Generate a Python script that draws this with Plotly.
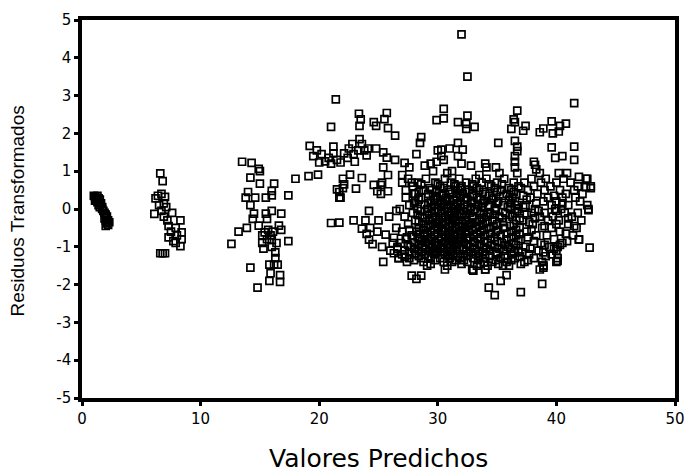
import plotly.graph_objects as go

# ---- data (x = valor predicho, y = residuo transformado) ----
cluster_a = [(1.0,0.35),(1.1,0.33),(1.2,0.30),(1.3,0.35),(1.4,0.28),(1.1,0.22),(1.3,0.18),
             (1.5,0.25),(1.4,0.10),(1.6,0.15),(1.5,0.05),(1.7,0.05),(1.8,-0.05),(1.9,-0.10),
             (2.0,-0.15),(1.9,-0.25),(2.1,-0.20),(2.0,-0.30),(2.2,-0.30),(2.1,-0.38),
             (2.2,-0.42),(2.0,-0.45),(2.3,-0.35),(1.7,0.0),(1.2,0.25)]

cluster_b = [(6.6,0.94),(6.8,0.74),(6.2,0.28),(6.4,0.35),(6.7,0.40),(7.0,0.32),(6.9,0.15),
             (6.5,0.10),(6.1,-0.13),(6.9,-0.20),(7.6,-0.10),(8.3,-0.30),(7.3,-0.45),
             (7.9,-0.50),(8.4,-0.62),(7.3,-0.75),(8.0,-0.70),(8.4,-0.80),(8.3,-0.98),
             (6.6,-1.17),(6.8,-1.17),(7.0,-1.17),(7.2,-0.30),(7.5,-0.60),(7.7,-0.85),
             (7.9,-0.90),(7.1,0.05),(6.7,-0.05)]

cluster_c = [(13.5,1.25),(14.3,1.22),(14.9,1.06),(15.0,1.00),(14.2,0.83),(15.0,0.67),
             (16.2,0.67),(18.0,0.80),(19.1,0.87),(14.0,0.45),(13.8,0.30),(14.6,0.30),
             (15.5,0.30),(16.0,0.48),(16.0,0.36),(17.4,0.36),(14.2,0.10),(14.5,-0.12),
             (15.5,-0.12),(16.0,-0.05),(16.8,-0.12),(14.4,-0.26),(15.6,-0.26),(13.9,-0.50),
             (14.9,-0.44),(15.7,-0.55),(16.6,-0.44),(16.8,-0.55),(13.2,-0.60),(12.6,-0.92),
             (15.2,-0.70),(16.0,-0.82),(17.4,-0.85),(15.2,-0.90),(15.3,-1.05),(16.0,-1.00),
             (16.3,-1.15),(16.3,-1.30),(15.8,-1.47),(16.2,-1.47),(16.5,-1.47),(14.2,-1.55),
             (15.9,-1.70),(16.7,-1.75),(14.8,-2.08),(15.8,-1.90),(16.7,-1.93),(15.4,-0.62),
             (15.9,-0.70),(16.1,-0.60),(15.6,-0.80),(16.4,-0.90)]

cluster_d = [(21.4,2.90),(21.0,2.17),(19.2,1.67),(19.5,1.40),(20.0,1.23),(20.5,1.26),
             (21.0,1.20),(21.2,1.47),(21.2,1.65),(21.8,1.23),(22.1,1.47),(22.5,1.60),
             (22.8,1.72),(23.4,1.85),(23.3,1.55),(23.6,1.72),(24.0,1.42),(24.1,1.60),
             (24.8,1.60),(25.4,1.50),(23.35,2.52),(23.5,2.37),(23.4,2.20),(25.7,2.54),
             (25.5,2.38),(24.6,2.30),(24.8,2.20),(25.8,2.14),(26.4,1.94),(28.6,1.90),
             (28.5,1.75),(27.2,1.22),(26.4,1.30),(25.7,1.36),(25.4,1.10),(25.8,0.90),
             (25.2,0.64),(25.8,0.47),(24.9,0.47),(25.2,0.40),(22.6,0.91),(23.6,0.82),
             (19.9,0.91),(21.5,0.52),(22.1,0.65),(23.1,0.54),(21.7,0.30),(24.2,-0.05),
             (21.7,-0.36),(22.9,-0.30),(23.6,-0.52),(24.0,-0.66),(24.2,-0.81),(24.5,-0.93),
             (24.9,-0.60),(25.6,-0.68),(26.3,-0.76),(25.4,-1.40),(26.3,-1.17),(27.2,-1.26),
             (26.6,-1.05),(24.6,0.64),(25.3,0.70),(27.0,0.70),(27.8,0.70),(27.3,0.50),
             (28.1,0.40),(28.4,0.30),(21.0,-0.37),(21.7,0.45),(21.8,0.30),(22.0,0.55),
             (22.0,0.80),(24.3,-0.50),(25.0,-0.30),(25.3,-1.00),(25.9,-0.20),(26.2,-0.90),
             (26.5,-0.50),(26.0,-1.10),(26.7,-1.30),(26.5,-0.05),(23.9,-0.30),(28.2,1.45),
             (28.9,1.15),(29.6,1.00),(27.6,1.10),(27.0,0.90),(20.2,1.45),(20.8,1.35),
             (21.5,1.30),(22.4,1.35),(23.0,1.25),(19.8,1.55),(22.9,1.45),(23.8,1.55)]

cluster_top = [(32.0,4.62),(32.5,3.50),(41.5,2.80),(30.5,2.65),(29.9,2.35),(30.5,2.40),
               (31.7,2.30),(32.5,2.47),(32.4,2.25),(33.1,2.17),(32.4,2.12),(36.7,2.60),
               (36.5,2.30),(36.2,2.12),(37.2,2.07),(38.6,2.03),(39.6,2.32),(40.3,2.20),
               (39.7,2.00),(40.2,2.05),(31.7,1.75),(35.1,1.75),(36.5,1.80),(36.7,1.65),
               (36.7,1.53),(39.6,1.63),(41.5,1.65),(41.5,1.30),(30.3,1.40),(30.5,1.30),
               (29.9,1.25),(29.4,1.20),(31.7,1.40),(32.0,1.20),(34.1,1.10),(34.9,1.10),
               (35.2,0.95),(36.5,1.40),(36.5,1.25),(36.5,1.10),(36.7,0.95),(38.2,1.17),
               (38.3,1.05),(38.6,0.95),(39.9,1.35),(40.5,1.40),(40.2,0.95),(40.9,0.95),
               (41.9,0.85),(42.6,0.80),(42.5,0.58),(42.9,0.55),(32.1,1.57),(30.3,1.57),
               (34.0,1.20),(38.9,2.13),(40.8,2.26),(38.1,1.25),(30.8,0.95),(31.2,1.00),
               (32.8,1.15),(33.5,0.90),(30.0,1.55),(31.0,1.60),(36.4,2.37),(37.4,2.20)]

cluster_low = [(42.8,-1.02),(42.7,-0.03),(41.9,-0.81),(40.1,-1.37),(34.3,-2.08),
               (34.8,-2.28),(35.3,-1.90),(35.8,-1.75),(37.0,-2.20),(38.8,-1.98),
               (38.9,-1.55),(38.9,-1.50),(33.0,-1.63),(34.0,-1.60),(27.8,-1.76),
               (28.6,-1.76),(28.2,-1.85),(27.6,-1.30)]

core_rows = {
    0.8: [27.5,29.0,30.6,31.8,33.2,34.1,35.6,37.9,39.1,40.6,42.5],
    0.7: [28.3,29.8,31.1,32.4,33.7,35.0,36.4,37.3,38.7,40.0,41.2],
    0.65: [28.6,30.0,31.4,32.9,34.3,35.4],
    0.6: [27.9,30.2,31.5,32.0,33.0,34.5,36.8,38.1,39.5,41.8,42.9],
    0.55: [29.3,30.5,31.9,33.3,34.8,36.0,37.0],
    0.5: [28.8,29.5,30.9,31.7,32.6,33.5,35.3,36.2,37.6,39.0,40.3,41.5],
    0.45: [28.4,29.9,31.0,32.3,33.8,35.0,36.4],
    0.4: [28.0,29.2,30.4,31.2,32.1,33.0,34.0,35.8,36.6,38.4,40.8,42.2],
    0.35: [29.6,30.3,31.9,32.9,34.3,35.5,37.2,39.8],
    0.3: [27.3,28.6,29.9,30.7,31.6,32.4,33.3,34.7,36.3,37.8,39.3,40.5,41.6],
    0.25: [28.4,29.7,30.6,31.4,32.5,33.6,34.6,36.0,37.5],
    0.2: [28.1,29.4,30.2,31.0,31.9,32.8,33.9,35.1,36.5,38.9,40.0,42.0],
    0.15: [28.0,29.2,30.3,31.7,32.9,33.8,35.0,36.2,38.3,40.5],
    0.1: [27.6,28.9,29.7,30.5,31.3,32.2,33.4,34.3,35.5,36.7,37.4,39.6,41.0,42.6],
    0.05: [29.5,30.3,31.9,32.8,33.7,34.3,35.9,37.2],
    0.0: [26.8,28.3,29.1,30.0,30.8,31.5,32.5,33.1,34.8,36.1,36.8,38.2,39.9,40.4,42.7],
    -0.05: [28.6,29.8,30.6,31.4,32.2,33.3,34.9,36.7,38.5,40.0],
    -0.1: [27.9,29.5,30.3,31.1,31.8,32.7,33.6,34.4,35.7,36.5,37.9,39.0,40.7,41.8],
    -0.15: [28.3,29.1,30.9,31.6,32.4,33.9,34.8,36.1,37.5],
    -0.2: [27.2,28.7,29.8,30.6,31.4,32.0,32.9,34.1,35.2,36.3,38.6,39.7,41.3],
    -0.25: [28.9,29.6,30.4,31.3,32.9,33.7,35.4,36.9,38.2,41.0],
    -0.3: [28.1,29.3,30.1,30.9,31.7,32.4,33.5,34.6,36.6,37.2,39.3,40.2,42.1],
    -0.35: [28.4,30.0,30.6,31.5,32.6,33.3,34.2,35.5,37.7],
    -0.4: [27.5,28.8,29.6,30.4,31.2,32.1,32.8,33.8,35.0,36.4,38.0,40.0,41.0],
    -0.45: [29.2,29.9,31.0,31.8,32.5,33.5,34.7,36.1,39.0,41.5],
    -0.5: [28.4,29.0,30.0,30.7,31.5,32.3,33.2,34.3,35.6,36.9,38.8,39.6,41.7],
    -0.55: [27.6,28.8,29.7,30.4,31.2,32.0,32.9,33.9,35.1,36.6,37.9],
    -0.6: [27.0,28.2,29.4,30.3,31.0,31.9,32.6,33.6,34.9,36.2,37.5,40.3],
    -0.65: [28.5,29.1,30.0,30.9,31.7,32.4,33.3,34.4,35.8,36.9,40.8],
    -0.7: [27.8,28.9,29.7,30.6,31.3,32.0,33.0,34.0,35.3,36.6,38.3,39.2,41.4],
    -0.75: [27.4,28.3,29.4,30.3,31.0,31.9,32.7,33.6,34.8,36.2,37.6],
    -0.8: [27.3,28.5,29.2,30.1,30.9,31.7,32.5,33.4,34.5,35.8,37.0,39.8,41.9],
    -0.85: [28.7,29.5,30.7,31.2,32.0,33.0,33.9,35.0,36.8,38.1,40.9],
    -0.9: [26.9,28.0,29.0,29.8,30.5,31.4,32.2,33.1,34.2,35.4,36.4,38.7,40.5],
    -0.95: [27.5,28.4,29.3,30.0,30.9,31.6,32.4,33.5,34.5,35.7,36.6,39.0,40.3],
    -1.0: [26.6,27.7,28.7,29.5,30.3,31.1,31.8,32.7,33.9,34.8,35.9,37.4,39.4,40.1],
    -1.05: [28.0,28.9,29.8,30.5,31.3,32.1,33.1,34.1,35.2,36.1,37.8,39.8],
    -1.1: [27.2,28.4,29.3,30.0,30.8,31.6,32.4,33.5,34.4,35.6,36.8,38.5,40.0],
    -1.15: [27.6,28.6,29.6,30.4,31.1,32.8,33.8,34.9,36.4,37.1,38.9],
    -1.2: [27.0,28.1,28.9,29.7,30.6,31.3,32.1,33.2,34.0,35.0,36.2,37.7,39.6],
    -1.25: [28.4,29.2,30.9,31.7,32.5,33.5,34.4,35.7,36.9,39.1],
    -1.3: [26.7,28.6,29.4,30.2,31.0,31.9,33.0,33.8,35.3,36.5,38.1,40.1],
    -1.35: [28.0,29.8,31.5,32.2,33.4,34.9,36.2,37.6],
    -1.4: [27.4,28.8,30.5,31.2,32.5,33.9,34.6,35.8,37.3,38.8,40.0],
    -1.45: [29.4,32.0,33.6,35.1,37.0],
    -1.5: [29.1,30.8,33.3,34.2,35.5,36.0,38.9],
    -1.6: [30.6,32.9,34.0,38.6],
}

x_ticks = [0, 10, 20, 30, 40, 50]
y_ticks = [5, 4, 3, 2, 1, 0, -1, -2, -3, -4, -5]
y_tick_labels = ["5", "4", "3", "2", "1", "0", "-1", "-2", "-3", "-4", "-5"]

# ---- assemble ----
pairs = cluster_a + cluster_b + cluster_c + cluster_d + cluster_top + cluster_low
for yv, xs in core_rows.items():
    pairs += [(xv, yv) for xv in xs]
xs_all = [p[0] for p in pairs]
ys_all = [p[1] for p in pairs]

fig = go.Figure(go.Scatter(
    x=xs_all, y=ys_all, mode="markers",
    marker=dict(symbol="square-open", size=7, color="black", line=dict(width=1.7, color="black")),
    hoverinfo="skip", showlegend=False))

tick_font = dict(family="DejaVu Sans, Liberation Sans, Arial", size=15, color="black")
fig.update_layout(
    width=696, height=474,
    margin=dict(l=82, r=11, t=13, b=76),
    paper_bgcolor="white", plot_bgcolor="white",
    xaxis=dict(range=[0, 50], tickvals=x_ticks, ticks="outside", ticklen=4, tickwidth=3,
               tickcolor="black", showline=True, linewidth=3.5, linecolor="black", mirror=True,
               showgrid=False, zeroline=False, tickfont=tick_font),
    yaxis=dict(range=[-5, 5], tickvals=y_ticks, ticktext=y_tick_labels, ticks="outside",
               ticklen=4, tickwidth=3, tickcolor="black", showline=True, linewidth=3.5,
               linecolor="black", mirror=True, showgrid=False, zeroline=False,
               tickfont=tick_font),
    annotations=[
        dict(text="Valores Predichos", xref="paper", yref="paper", x=0.5, y=-0.161,
             xanchor="center", yanchor="middle", showarrow=False,
             font=dict(family="DejaVu Sans, Liberation Sans, Arial", size=25, color="black")),
        dict(text="Residuos Transformados", xref="paper", yref="paper", x=-0.108, y=0.496,
             xanchor="center", yanchor="middle", textangle=-90, showarrow=False,
             font=dict(family="Liberation Sans, Arial", size=19, color="black")),
    ],
)
# remove the default 8 px page margin so the 696x474 figure fills the window exactly
fig.write_html("out.html", config={"displayModeBar": False},
               post_script="document.body.style.margin='0';document.body.style.overflow='hidden';")
